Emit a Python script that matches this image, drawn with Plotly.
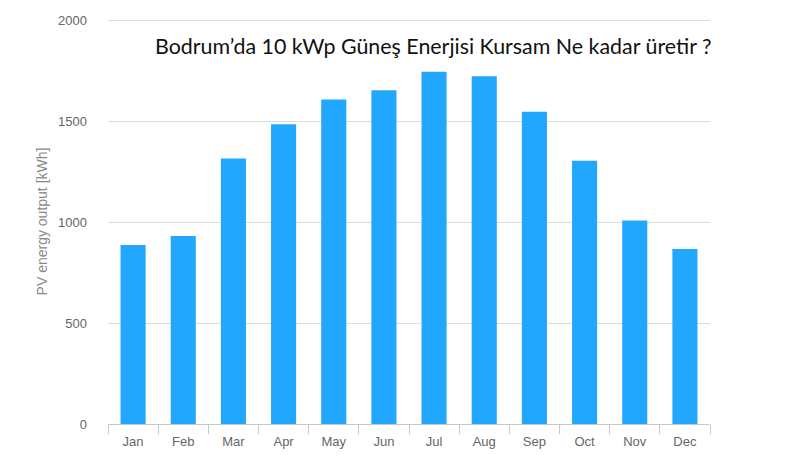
import plotly.graph_objects as go

months = ["Jan", "Feb", "Mar", "Apr", "May", "Jun", "Jul", "Aug", "Sep", "Oct", "Nov", "Dec"]
pv_output = [886, 931, 1315, 1484, 1607, 1652, 1744, 1721, 1546, 1303, 1008, 866]
y_ticks = [0, 500, 1000, 1500, 2000]
title_text = "Bodrum\u2019da 10 kWp Güneş Enerjisi Kursam Ne kadar üretir ?"
y_title = "PV energy output [kWh]"

fig = go.Figure(go.Bar(
    x=months, y=pv_output,
    marker=dict(color="#22A7FE", line=dict(width=0)),
    width=0.5,
))

fig.update_layout(
    width=795, height=456,
    margin=dict(l=100, r=93, t=11, b=40),
    paper_bgcolor="white", plot_bgcolor="white",
    showlegend=False,
    font=dict(family="Arial, Liberation Sans, sans-serif", size=13, color="#666"),
    xaxis=dict(
        automargin=False,
        showline=True, linecolor="#C8C8C8", linewidth=1,
        ticks="outside", tickson="boundaries", ticklen=9, tickcolor="#C8C8C8",
        ticklabelstandoff=5,
        showgrid=False,
        tickfont=dict(size=13, color="#666"),
    ),
    yaxis=dict(
        automargin=False,
        range=[0, 2005], tickvals=y_ticks,
        showgrid=True, gridcolor="#DDDDDD", gridwidth=1,
        zeroline=False, showline=False,
        ticks="", ticklabelstandoff=20,
        tickfont=dict(size=13, color="#666"),
        title=dict(text=y_title, font=dict(size=14, color="#888"), standoff=7),
    ),
    annotations=[dict(
        text=title_text, xref="paper", yref="paper",
        x=0.5415, y=0.933, xanchor="center", yanchor="middle",
        showarrow=False,
        font=dict(family="Lato, Open Sans, sans-serif", size=21.4, color="#111"),
    )],
)

fig.write_html("out.html")
